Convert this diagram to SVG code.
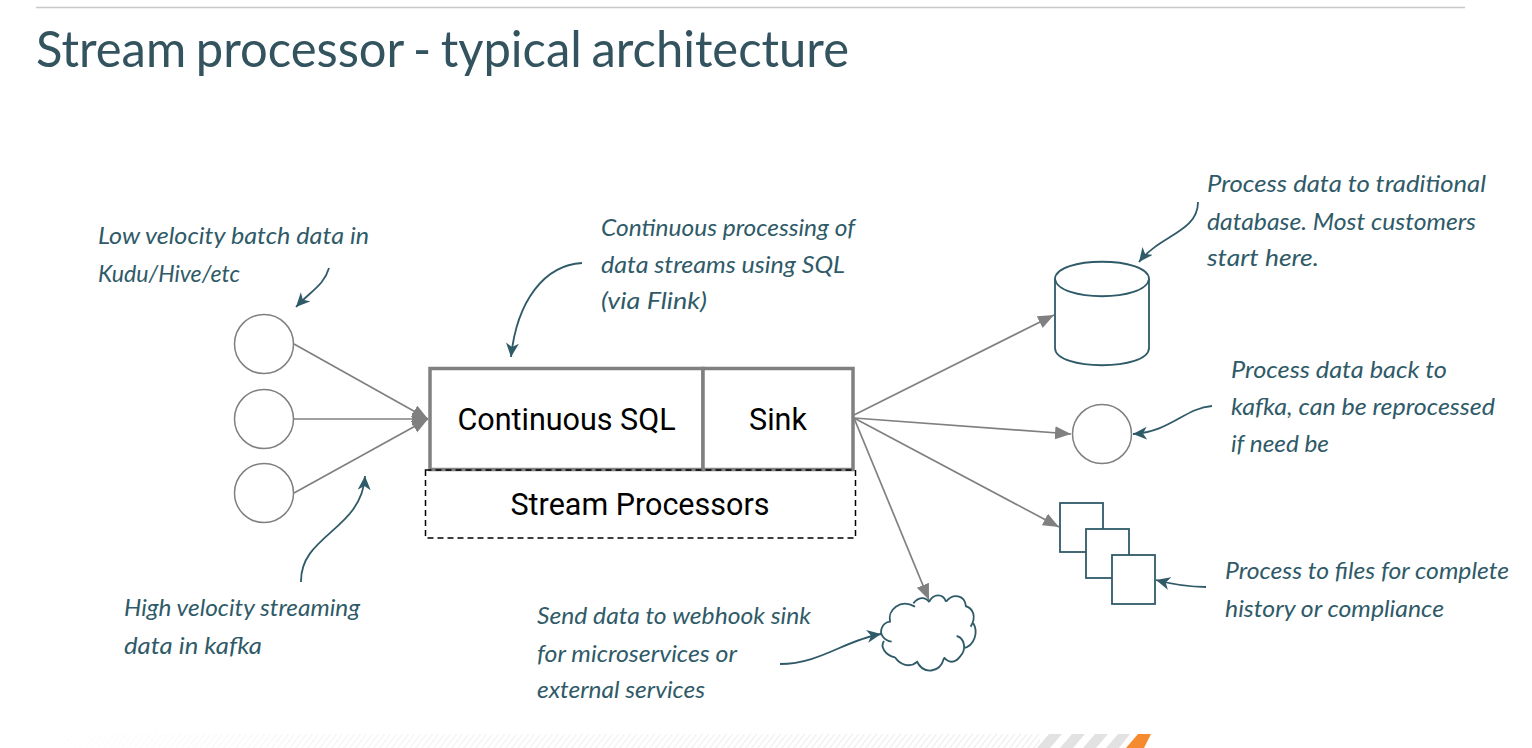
<svg xmlns="http://www.w3.org/2000/svg" width="1532" height="748" viewBox="0 0 1532 748">
<defs>
<marker id="ga" markerUnits="userSpaceOnUse" markerWidth="18" markerHeight="14" refX="16" refY="6.500" orient="auto"><path d="M0 0L16 6.500L0 13Z" fill="#808080"/></marker>
<marker id="ta" markerUnits="userSpaceOnUse" markerWidth="16" markerHeight="14" refX="14" refY="6.500" orient="auto"><path d="M0 0L14 6.500L0 13L4 6.500Z" fill="#2f5a68"/></marker>
<pattern id="st" width="6" height="16" patternUnits="userSpaceOnUse" patternTransform="translate(0 734) skewX(-38)"><rect width="1.200" height="16" fill="#e9e9e9"/></pattern>
<linearGradient id="fd"><stop offset="0" stop-color="#fff" stop-opacity="1"/><stop offset="0.3" stop-color="#fff" stop-opacity="0.4"/><stop offset="1" stop-color="#fff" stop-opacity="0"/></linearGradient>
</defs>
<style>
.n{fill:#fff;stroke:#808080;stroke-width:1.500}
.s{fill:#fff;stroke:#2f5a68;stroke-width:1.800}
.g{fill:none;stroke:#808080;stroke-width:1.700}
.c{fill:none;stroke:#2f5a68;stroke-width:1.800}
.b{fill:#fff;stroke:#808080;stroke-width:3.500}
.r{font-family:Roboto,"Liberation Sans",sans-serif;font-size:30.500px;fill:#000;text-anchor:middle}
.h{font-family:Lato,"Open Sans","Liberation Sans",sans-serif;font-style:italic;font-size:24px;fill:#2f5a68}
.t{font-family:Lato,"Liberation Sans",sans-serif;font-size:50px;fill:#33535f;word-spacing:-3px}
</style>
<rect width="1532" height="748" fill="#fff"/>
<line x1="36" y1="7.500" x2="1465" y2="7.500" stroke="#c8c8c8" stroke-width="1.500"/>
<text class="t" x="36" y="67" textLength="813" lengthAdjust="spacingAndGlyphs">Stream processor - typical architecture</text>
<g id="footer">
<rect x="20" y="734" width="1020" height="14" fill="url(#st)"/>
<rect x="20" y="734" width="1020" height="14" fill="url(#fd)"/>
<path d="M1037 748L1049 734H1062L1050 748ZM1060 748L1072 734H1085L1073 748ZM1083 748L1095 734H1108L1096 748ZM1106 748L1118 734H1130L1119 748Z" fill="#e2e2e2"/>
<path d="M1126 748L1138 734H1151L1144 748Z" fill="#f58b2e"/>
</g>
<g id="connectors">
<line class="g" x1="294" y1="344" x2="428" y2="419" marker-end="url(#ga)"/>
<line class="g" x1="294" y1="419" x2="428" y2="419" marker-end="url(#ga)"/>
<line class="g" x1="294" y1="493" x2="428" y2="419" marker-end="url(#ga)"/>
<line class="g" x1="854" y1="415" x2="1054" y2="315" marker-end="url(#ga)"/>
<line class="g" x1="854" y1="418" x2="1071" y2="434" marker-end="url(#ga)"/>
<line class="g" x1="854" y1="418" x2="1059" y2="527" marker-end="url(#ga)"/>
<line class="g" x1="854" y1="418" x2="929" y2="600" marker-end="url(#ga)"/>
<path class="c" d="M329 268C324 285 312 290 296 307" marker-end="url(#ta)"/>
<path class="c" d="M582 263C545 265 517 300 511 357" marker-end="url(#ta)"/>
<path class="c" d="M301 582C300 535 362 530 365 476" marker-end="url(#ta)"/>
<path class="c" d="M1198 202C1198 232 1160 235 1139 262" marker-end="url(#ta)"/>
<path class="c" d="M1212 406C1185 408 1170 432 1133 434" marker-end="url(#ta)"/>
<path class="c" d="M1206 587C1190 587 1175 585 1156 580" marker-end="url(#ta)"/>
<path class="c" d="M780 664C820 664 845 640 881 634" marker-end="url(#ta)"/>
</g>
<g id="source-1"><circle class="n" cx="264" cy="344" r="29.500"/></g>
<g id="source-2"><circle class="n" cx="264" cy="419" r="29.500"/></g>
<g id="source-3"><circle class="n" cx="264" cy="493" r="29.500"/></g>
<g id="continuous-sql"><rect class="b" x="430" y="368.500" width="273" height="101"/><text class="r" x="566.500" y="430">Continuous SQL</text></g>
<g id="sink"><rect class="b" x="703" y="368.500" width="150" height="101"/><text class="r" x="778" y="430">Sink</text></g>
<g id="stream-processors"><rect x="425.500" y="470" width="430" height="68" fill="none" stroke="#000" stroke-width="1.500" stroke-dasharray="6 4"/><text class="r" x="640" y="515">Stream Processors</text></g>
<g id="database"><path class="s" d="M1055 279C1055 256 1149 256 1149 279V348C1149 371 1055 371 1055 348Z"/><path class="c" d="M1055 279C1058 302 1146 302 1149 279"/></g>
<g id="kafka"><circle class="n" cx="1102" cy="434" r="29.500"/></g>
<g id="files"><rect class="s" x="1060" y="503" width="43" height="49"/><rect class="s" x="1086" y="529" width="43" height="49"/><rect class="s" x="1112" y="555" width="43" height="49"/></g>
<g id="cloud" transform="translate(860 560) scale(0.3333)">
<path fill="#fff" d="M90 185C82 150 120 115 165 135C175 112 195 108 208 125C220 100 250 100 258 125C280 98 315 105 318 140C340 145 350 170 340 190C355 215 345 258 310 265C305 295 270 310 252 292C240 340 190 345 170 303C150 325 120 315 105 292C75 285 60 260 72 243C58 222 65 190 90 185Z"/>
<path fill="none" stroke="#2f5a68" stroke-width="5.500" d="M95 245C72 242 58 222 65 205C70 192 80 186 90 185C82 150 120 115 165 140M160 130C175 112 195 108 208 127M208 125C220 100 250 100 258 125M258 125C280 98 315 105 318 140M316 138C340 145 350 170 332 200M340 190C355 215 345 258 310 265M290 228C315 235 320 270 300 290C285 310 265 310 252 292M252 295C240 340 190 345 170 303M172 305C150 325 120 315 105 292M105 292C75 285 60 260 72 243"/>
</g>
<g id="labels">
<text class="h" x="98" y="244" textLength="271" lengthAdjust="spacingAndGlyphs">Low velocity batch data in</text>
<text class="h" x="98" y="282" textLength="142" lengthAdjust="spacingAndGlyphs">Kudu/Hive/etc</text>
<text class="h" x="601" y="236" textLength="254" lengthAdjust="spacingAndGlyphs">Continuous processing of</text>
<text class="h" x="601" y="273" textLength="244" lengthAdjust="spacingAndGlyphs">data streams using SQL</text>
<text class="h" x="601" y="309" textLength="106" lengthAdjust="spacingAndGlyphs">(via Flink)</text>
<text class="h" x="1207" y="192" textLength="279" lengthAdjust="spacingAndGlyphs">Process data to traditional</text>
<text class="h" x="1207" y="230" textLength="269" lengthAdjust="spacingAndGlyphs">database. Most customers</text>
<text class="h" x="1207" y="266" textLength="112" lengthAdjust="spacingAndGlyphs">start here.</text>
<text class="h" x="1231" y="378" textLength="216" lengthAdjust="spacingAndGlyphs">Process data back to</text>
<text class="h" x="1231" y="415" textLength="264" lengthAdjust="spacingAndGlyphs">kafka, can be reprocessed</text>
<text class="h" x="1231" y="452" textLength="98" lengthAdjust="spacingAndGlyphs">if need be</text>
<text class="h" x="1225" y="579" textLength="284" lengthAdjust="spacingAndGlyphs">Process to files for complete</text>
<text class="h" x="1225" y="617" textLength="219" lengthAdjust="spacingAndGlyphs">history or compliance</text>
<text class="h" x="124" y="616" textLength="236" lengthAdjust="spacingAndGlyphs">High velocity streaming</text>
<text class="h" x="124" y="654" textLength="138" lengthAdjust="spacingAndGlyphs">data in kafka</text>
<text class="h" x="537" y="624" textLength="274" lengthAdjust="spacingAndGlyphs">Send data to webhook sink</text>
<text class="h" x="537" y="662" textLength="200" lengthAdjust="spacingAndGlyphs">for microservices or</text>
<text class="h" x="537" y="698" textLength="168" lengthAdjust="spacingAndGlyphs">external services</text>
</g>
</svg>
